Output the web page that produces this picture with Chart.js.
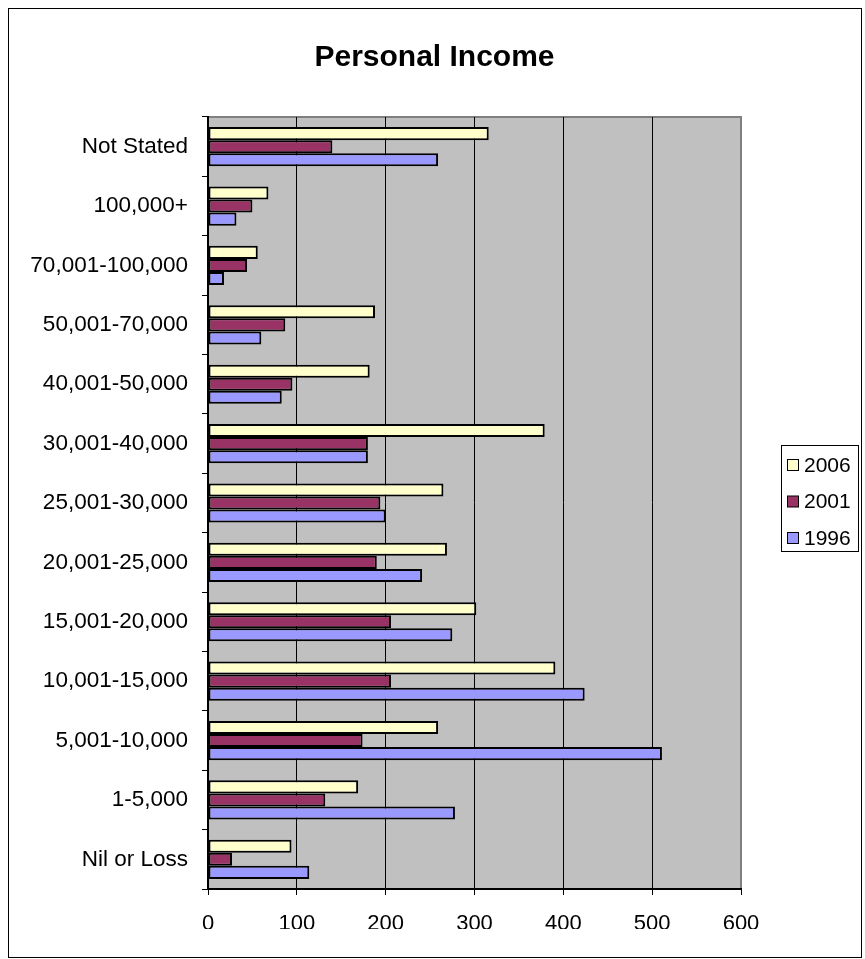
<!DOCTYPE html>
<html>
<head>
<meta charset="utf-8">
<title>Personal Income</title>
<script src="https://cdn.jsdelivr.net/npm/chart.js@4/dist/chart.umd.min.js"></script>
<style>
  html, body { margin: 0; padding: 0; background: #fff; }
  canvas { display: block; }
</style>
</head>
<body>
<canvas id="incomeChart" width="865" height="959"></canvas>
<script>
/* ---------------------------------------------------------------
   Personal income bands — counts for 1996, 2001 and 2006
   --------------------------------------------------------------- */

const FONT = "'Liberation Sans', Arial, Helvetica, sans-serif";

// income bands, listed top to bottom
const incomeBands = [
  "Not Stated", "100,000+", "70,001-100,000", "50,001-70,000",
  "40,001-50,000", "30,001-40,000", "25,001-30,000", "20,001-25,000",
  "15,001-20,000", "10,001-15,000", "5,001-10,000", "1-5,000", "Nil or Loss"
];

const counts2006 = [316, 68, 56, 188, 182, 379, 265, 269, 302, 391, 259, 169, 94];
const counts2001 = [140, 50, 44, 87, 95, 180, 194, 190, 206, 206, 174, 132, 27];
const counts1996 = [259, 32, 18, 60, 83, 180, 200, 241, 275, 424, 511, 278, 114];

const xTicks = [0, 100, 200, 300, 400, 500, 600];

// frame, grey plot area and the boxed legend on the right
const framePlugin = {
  id: "frame",
  beforeDraw(chart) {
    const { ctx, chartArea: a } = chart;
    ctx.save();
    ctx.fillStyle = "#fff";
    ctx.fillRect(0, 0, chart.width, chart.height);
    ctx.strokeStyle = "#000";
    ctx.lineWidth = 1;
    ctx.strokeRect(8.5, 8.5, 853, 949);
    ctx.fillStyle = "#C0C0C0";
    ctx.fillRect(a.left, a.top, a.right - a.left, a.bottom - a.top);
    ctx.strokeStyle = "#808080";
    ctx.lineWidth = 2;
    ctx.beginPath();
    ctx.moveTo(a.left, a.top);
    ctx.lineTo(a.right, a.top);
    ctx.lineTo(a.right, a.bottom);
    ctx.stroke();
    ctx.restore();
  },
  afterDraw(chart) {
    const { ctx } = chart;
    const box = { x: 781, y: 445, w: 77, h: 106 };
    ctx.save();
    ctx.strokeStyle = "#000";
    ctx.lineWidth = 1;
    ctx.strokeRect(box.x + 0.5, box.y + 0.5, box.w, box.h);
    ctx.font = "21px " + FONT;
    ctx.textBaseline = "middle";
    chart.data.datasets.forEach((ds, i) => {
      const cy = box.y + 20 + i * 36.5;
      ctx.fillStyle = ds.backgroundColor;
      ctx.fillRect(787, cy - 5.5, 11, 11);
      ctx.strokeStyle = "#000";
      ctx.strokeRect(787.5, cy - 5.5, 11, 11);
      ctx.fillStyle = "#000";
      ctx.fillText(ds.label, 804, cy + 1);
    });
    ctx.restore();
  }
};

const barStyle = {
  borderColor: "#000",
  borderWidth: 2,
  borderSkipped: false,
  barPercentage: 1.0,
  categoryPercentage: 0.66
};

new Chart(document.getElementById("incomeChart"), {
  type: "bar",
  data: {
    labels: incomeBands,
    datasets: [
      { label: "2006", data: counts2006, backgroundColor: "#FFFFCC", ...barStyle },
      { label: "2001", data: counts2001, backgroundColor: "#993366", ...barStyle },
      { label: "1996", data: counts1996, backgroundColor: "#9999FF", ...barStyle }
    ]
  },
  options: {
    indexAxis: "y",
    responsive: false,
    animation: false,
    devicePixelRatio: 1,
    layout: { padding: { top: 0, left: 8, right: 4, bottom: 30 } },
    plugins: {
      legend: { display: false },
      tooltip: { enabled: false },
      title: {
        display: true,
        text: "Personal Income",
        color: "#000",
        font: { family: FONT, size: 30, weight: "bold" },
        padding: { top: 40, bottom: 41 }
      }
    },
    scales: {
      x: {
        min: 0,
        max: 600,
        afterBuildTicks: s => { s.ticks = xTicks.map(v => ({ value: v })); },
        afterFit: s => { s.height = 40; },
        border: { display: true, color: "#000", width: 2 },
        grid: {
          color: c => (c.tick && c.tick.value === 600 ? "#808080" : "#000"),
          lineWidth: 1,
          tickColor: "#000",
          tickLength: 6
        },
        ticks: {
          color: "#000",
          padding: 16,
          maxRotation: 0,
          font: { family: FONT, size: 22 }
        }
      },
      y: {
        afterFit: s => { s.width = 200; },
        border: { display: true, color: "#000", width: 2 },
        grid: {
          drawOnChartArea: false,
          color: "#000",
          tickLength: 6,
          offset: true
        },
        ticks: {
          color: "#000",
          autoSkip: false,
          padding: 14,
          font: { family: FONT, size: 22.5 }
        }
      },
      // empty strip on the right that holds room for the legend box
      legendRoom: {
        type: "category",
        position: "right",
        grid: { display: false },
        border: { display: false },
        ticks: { display: false },
        afterFit: s => { s.width = 120; }
      }
    }
  },
  plugins: [framePlugin]
});
</script>
</body>
</html>
